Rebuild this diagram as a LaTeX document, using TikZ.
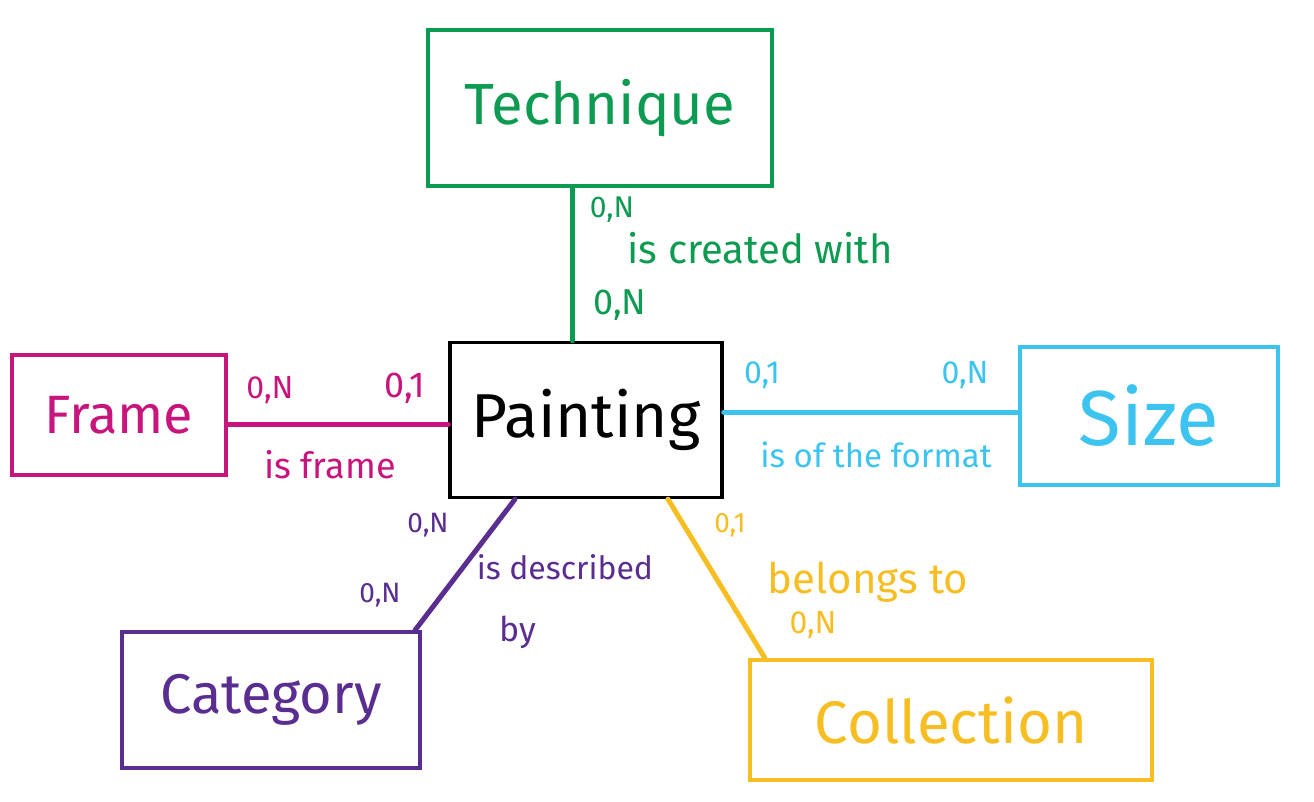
\documentclass[tikz,border=0pt]{standalone}
\usepackage{fontspec}
\setmainfont{Fira Sans}
\definecolor{cgreen}{RGB}{12,155,80}
\definecolor{cmag}{RGB}{200,20,125}
\definecolor{ccyan}{RGB}{60,195,240}
\definecolor{cpurple}{RGB}{90,45,145}
\definecolor{cyellow}{RGB}{247,190,35}
\newcommand{\fs}[1]{\fontsize{#1}{#1}\selectfont}
\tikzset{
  entity/.style={draw, line width=3.5pt, rectangle, inner sep=0pt},
  rel/.style={line width=5pt, line cap=round},
  lbl/.style={inner sep=0pt, font=\fs{32}},
}
\begin{document}
\begin{tikzpicture}[x=1pt,y=-1pt]
\useasboundingbox (0,0) rectangle (1314,802);
% entities
\node[entity, cgreen, minimum width=344, minimum height=156, font=\fs{58}] (tech) at (600,108) {Technique};
\node[entity, black, minimum width=272, minimum height=155, font=\fs{62}] (paint) at (586,420) {Painting};
\node[entity, cmag, minimum width=214, minimum height=120, font=\fs{54}] (frame) at (119,415) {Frame};
\node[entity, ccyan, minimum width=258, minimum height=138, font=\fs{78}] (size) at (1149,416) {Size};
\node[entity, cpurple, minimum width=298, minimum height=136, font=\fs{56}] (cat) at (271,700) {Category};
\node[entity, cyellow, minimum width=402, minimum height=120, font=\fs{60}] (coll) at (951,720) {Collection};
% helper coordinates
\coordinate (xg) at (572,0);
\coordinate (ym) at (0,424);
\coordinate (yc) at (0,412);
\coordinate (xp1) at (515,0);
\coordinate (xp2) at (415,0);
\coordinate (xy1) at (668,0);
\coordinate (xy2) at (765,0);
% connectors
\draw[rel, cgreen] (tech.south -| xg) -- (paint.north -| xg);
\draw[rel, cmag] (frame.east |- ym) -- (paint.west |- ym);
\draw[rel, ccyan] (paint.east |- yc) -- (size.west |- yc);
\draw[rel, cpurple] (paint.south -| xp1) -- (cat.north -| xp2);
\draw[rel, cyellow] (paint.south -| xy1) -- (coll.north -| xy2);
% labels
\node[lbl, cgreen, font=\fs{30}] (g1) at (612,210) {0,N};
\node[lbl, cgreen, font=\fs{40}] (g2) at (760,248) {is created with};
\node[lbl, cgreen, font=\fs{36}] (g3) at (620,305) {0,N};
\node[lbl, cmag] (m1) at (270,390) {0,N};
\node[lbl, cmag, font=\fs{36}] (m2) at (405,388) {0,1};
\node[lbl, cmag, font=\fs{36}] (m3) at (330,465) {is frame};
\node[lbl, ccyan] (c1) at (762,375) {0,1};
\node[lbl, ccyan] (c2) at (965,375) {0,N};
\node[lbl, ccyan, font=\fs{33}] (c3) at (876,455) {is of the format};
\node[lbl, cpurple, font=\fs{28}] (p1) at (428,525) {0,N};
\node[lbl, cpurple, font=\fs{28}] (p2) at (380,595) {0,N};
\node[lbl, cpurple] (p3) at (565,567) {is described};
\node[lbl, cpurple, font=\fs{34}] (p4) at (518,632) {by};
\node[lbl, cyellow, font=\fs{28}] (y1) at (730,525) {0,1};
\node[lbl, cyellow, font=\fs{42}] (y2) at (868,582) {belongs to};
\node[lbl, cyellow] (y3) at (813,625) {0,N};
\end{tikzpicture}
\end{document}
